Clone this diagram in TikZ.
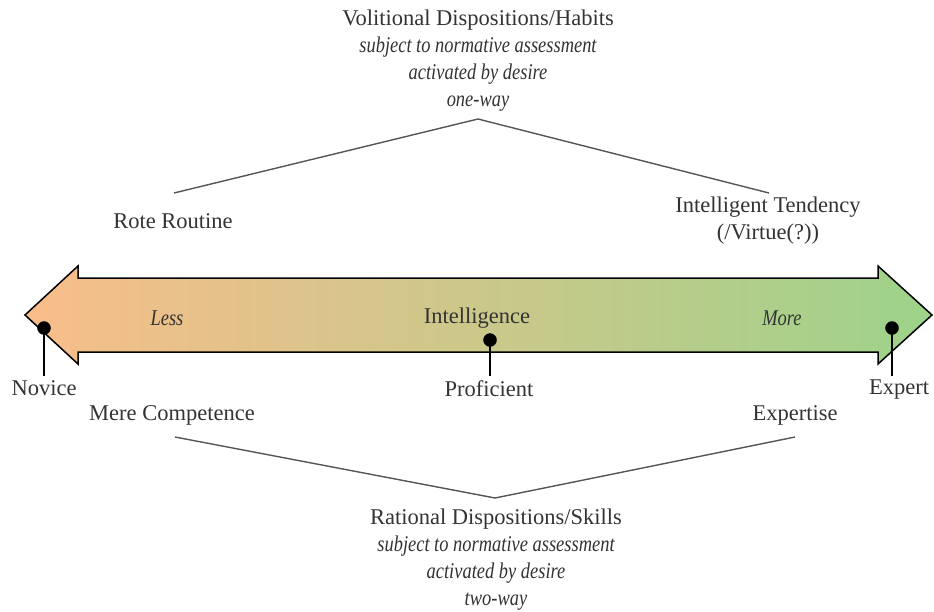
\documentclass[tikz,border=0pt]{standalone}
\usepackage{fontspec}
\setmainfont{Liberation Serif}[ItalicFeatures={FakeStretch=0.82}]
\definecolor{txt}{HTML}{333333}
\definecolor{lessc}{RGB}{249,189,138}
\definecolor{morec}{RGB}{157,211,138}
\definecolor{linec}{HTML}{555555}
\begin{document}
\begin{tikzpicture}[x=1pt,y=-1pt,
  lbl/.style={text=txt,font=\fontsize{22.5}{27}\selectfont,inner sep=0pt,align=center},
  sub/.style={line width=1.4pt,draw=linec},
  pin/.style={circle,fill=black,draw=black,minimum size=13pt,inner sep=0pt},
  pinline/.style={line width=1.3pt,draw=black}]
\useasboundingbox (0,0) rectangle (934,611);

% scale arrow, shaded from orange to green
\draw[line width=1.5pt,left color=lessc,right color=morec]
  (25,315) -- (78,266) -- (78,278) -- (878,278) -- (878,266) -- (932,315)
  -- (878,364) -- (878,352) -- (78,352) -- (78,364) -- cycle;

\node[lbl] (less) at (167,318) {\itshape Less};
\node[lbl] (intel) at (477,318) {Intelligence};
\node[lbl] (more) at (782,318) {\itshape More};

% points on the scale
\node[pin] (novdot) at (44,328) {};
\node[pin] (profdot) at (490,340) {};
\node[pin] (expdot) at (892,328) {};
\node[lbl,anchor=north] (novice) at (44,380) {Novice};
\node[lbl,anchor=north] (proficient) at (489,380) {Proficient};
\node[lbl,anchor=north] (expert) at (899,380) {Expert};
\draw[pinline] (novdot.center) -- ([yshift=4pt]novdot.center |- novice.north);
\draw[pinline] (profdot.center) -- ([yshift=4pt]profdot.center |- proficient.north);
\draw[pinline] (expdot.center) -- ([yshift=4pt]expdot.center |- expert.north);

% volitional dispositions
\node[lbl] (habits) at (478,61) {Volitional Dispositions/Habits\\
  \itshape subject to normative assessment\\ \itshape activated by desire\\ \itshape one-way};
\node[lbl] (rote) at (173,221) {Rote Routine};
\node[lbl] (tendency) at (768,221) {Intelligent Tendency\\(/Virtue(?))};
\coordinate (vleft) at (174,193);
\coordinate (vpeak) at (478,119);
\coordinate (vright) at (769,193);
\draw[sub] (vleft) -- (vpeak) -- (vright);

% rational dispositions
\node[lbl] (competence) at (172,415) {Mere Competence};
\node[lbl] (expertise) at (795,415) {Expertise};
\node[lbl] (skills) at (496,560) {Rational Dispositions/Skills\\
  \itshape subject to normative assessment\\ \itshape activated by desire\\ \itshape two-way};
\coordinate (rleft) at (175,437);
\coordinate (rlow) at (495,498);
\coordinate (rright) at (795,437);
\draw[sub] (rleft) -- (rlow) -- (rright);
\end{tikzpicture}
\end{document}
